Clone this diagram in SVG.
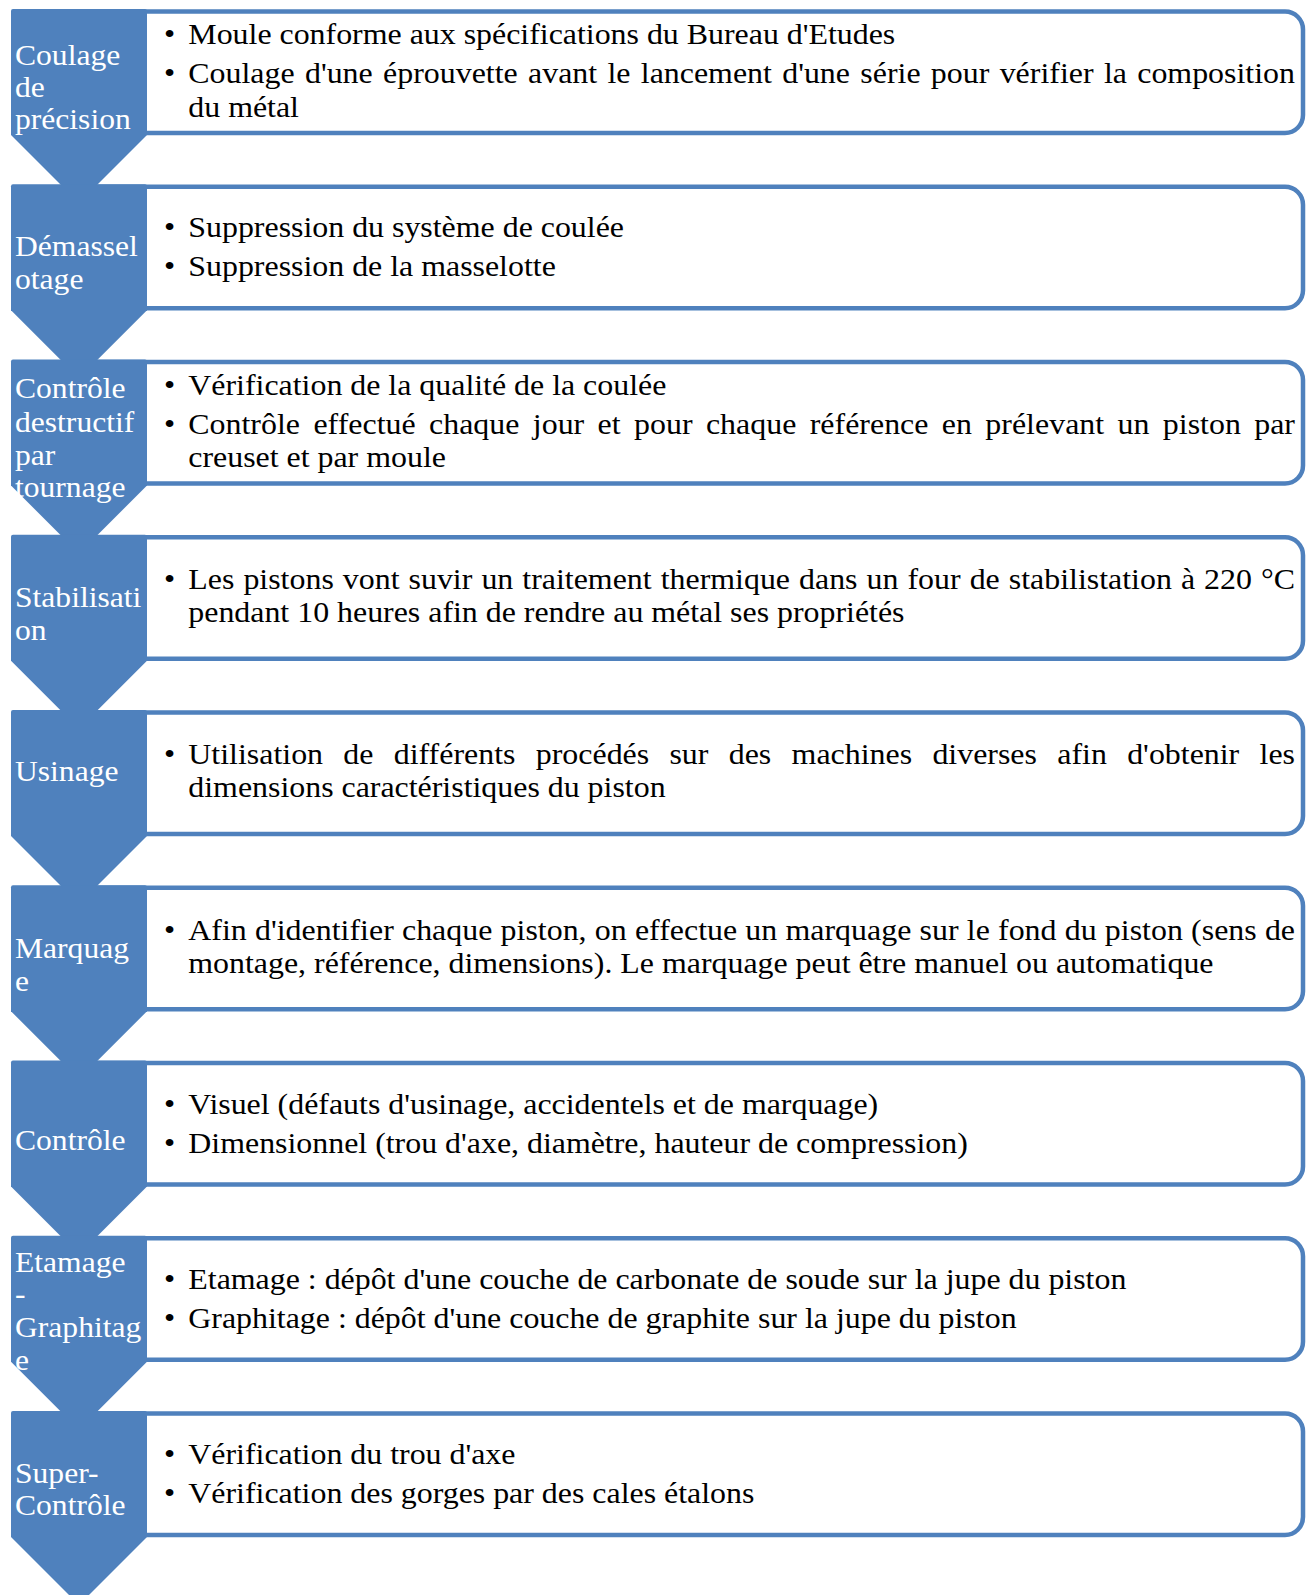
<svg xmlns="http://www.w3.org/2000/svg" width="1311" height="1595" viewBox="0 0 1311 1595">
<style>
.bx{fill:#fff;stroke:#4F81BD;stroke-width:4.5}
.cv{fill:#4F81BD}
.lb{font-family:"Liberation Serif","Times New Roman",serif;font-size:28.8px;fill:#fff}
.tx{font-family:"Liberation Serif","Times New Roman",serif;font-size:29px;fill:#000}
</style>
<rect width="1311" height="1595" fill="#fff"/>
<g id="connectors"/>
<g id="node1">
<rect class="bx" x="60" y="11.5" width="1243" height="121.5" rx="18"/>
<path class="cv" d="M11,11 Q11,9 13,9 H145 Q147,9 147,11 V135 L79,203 L11,135 Z"/>
<text class="lb" transform="translate(15,65) scale(1.097,1)">Coulage</text>
<text class="lb" transform="translate(15,97) scale(1.097,1)">de</text>
<text class="lb" transform="translate(15,128.5) scale(1.097,1)">précision</text>
<text class="tx" transform="translate(164,44.3) scale(1.1,1)">•</text>
<text class="tx" transform="translate(188.3,44.3) scale(1.1,1)">Moule conforme aux spécifications du Bureau d'Etudes</text>
<text class="tx" transform="translate(164,83.3) scale(1.1,1)">•</text>
<text class="tx" transform="translate(188.3,83.3) scale(1.1,1)" word-spacing="2.1" textLength="1006.1" lengthAdjust="spacing">Coulage d'une éprouvette avant le lancement d'une série pour vérifier la composition</text>
<text class="tx" transform="translate(188.3,116.7) scale(1.1,1)">du métal</text>
</g>
<g id="node2">
<rect class="bx" x="60" y="186.75" width="1243" height="121.5" rx="18"/>
<path class="cv" d="M11,186.25 Q11,184.25 13,184.25 H145 Q147,184.25 147,186.25 V310.25 L79,378.25 L11,310.25 Z"/>
<text class="lb" transform="translate(15,256) scale(1.097,1)">Démassel</text>
<text class="lb" transform="translate(15,289) scale(1.097,1)">otage</text>
<text class="tx" transform="translate(164,237.25) scale(1.1,1)">•</text>
<text class="tx" transform="translate(188.3,237.25) scale(1.1,1)">Suppression du système de coulée</text>
<text class="tx" transform="translate(164,276.25) scale(1.1,1)">•</text>
<text class="tx" transform="translate(188.3,276.25) scale(1.1,1)">Suppression de la masselotte</text>
</g>
<g id="node3">
<rect class="bx" x="60" y="362" width="1243" height="121.5" rx="18"/>
<path class="cv" d="M11,361.5 Q11,359.5 13,359.5 H145 Q147,359.5 147,361.5 V485.5 L79,553.5 L11,485.5 Z"/>
<text class="lb" transform="translate(15,398) scale(1.097,1)">Contrôle</text>
<text class="lb" transform="translate(15,431.5) scale(1.097,1)">destructif</text>
<text class="lb" transform="translate(15,465) scale(1.097,1)">par</text>
<text class="lb" transform="translate(15,497) scale(1.097,1)">tournage</text>
<text class="tx" transform="translate(164,394.8) scale(1.1,1)">•</text>
<text class="tx" transform="translate(188.3,394.8) scale(1.1,1)">Vérification de la qualité de la coulée</text>
<text class="tx" transform="translate(164,433.8) scale(1.1,1)">•</text>
<text class="tx" transform="translate(188.3,433.8) scale(1.1,1)" word-spacing="4.9" textLength="1006.1" lengthAdjust="spacing">Contrôle effectué chaque jour et pour chaque référence en prélevant un piston par</text>
<text class="tx" transform="translate(188.3,467.2) scale(1.1,1)">creuset et par moule</text>
</g>
<g id="node4">
<rect class="bx" x="60" y="537.25" width="1243" height="121.5" rx="18"/>
<path class="cv" d="M11,536.75 Q11,534.75 13,534.75 H145 Q147,534.75 147,536.75 V660.75 L79,728.75 L11,660.75 Z"/>
<text class="lb" transform="translate(15,607) scale(1.097,1)">Stabilisati</text>
<text class="lb" transform="translate(15,640) scale(1.097,1)">on</text>
<text class="tx" transform="translate(164,589) scale(1.1,1)">•</text>
<text class="tx" transform="translate(188.3,589) scale(1.1,1)" word-spacing="0.95" textLength="1006.1" lengthAdjust="spacing">Les pistons vont suvir un traitement thermique dans un four de stabilistation à 220 °C</text>
<text class="tx" transform="translate(188.3,622) scale(1.1,1)">pendant 10 heures afin de rendre au métal ses propriétés</text>
</g>
<g id="node5">
<rect class="bx" x="60" y="712.5" width="1243" height="121.5" rx="18"/>
<path class="cv" d="M11,712 Q11,710 13,710 H145 Q147,710 147,712 V836 L79,904 L11,836 Z"/>
<text class="lb" transform="translate(15,781) scale(1.097,1)">Usinage</text>
<text class="tx" transform="translate(164,764.3) scale(1.1,1)">•</text>
<text class="tx" transform="translate(188.3,764.3) scale(1.1,1)" word-spacing="11.2" textLength="1006.1" lengthAdjust="spacing">Utilisation de différents procédés sur des machines diverses afin d'obtenir les</text>
<text class="tx" transform="translate(188.3,797.3) scale(1.1,1)">dimensions caractéristiques du piston</text>
</g>
<g id="node6">
<rect class="bx" x="60" y="887.75" width="1243" height="121.5" rx="18"/>
<path class="cv" d="M11,887.25 Q11,885.25 13,885.25 H145 Q147,885.25 147,887.25 V1011.25 L79,1079.25 L11,1011.25 Z"/>
<text class="lb" transform="translate(15,958) scale(1.097,1)">Marquag</text>
<text class="lb" transform="translate(15,990.5) scale(1.097,1)">e</text>
<text class="tx" transform="translate(164,939.5) scale(1.1,1)">•</text>
<text class="tx" transform="translate(188.3,939.5) scale(1.1,1)" word-spacing="0.2" textLength="1006.1" lengthAdjust="spacing">Afin d'identifier chaque piston, on effectue un marquage sur le fond du piston (sens de</text>
<text class="tx" transform="translate(188.3,972.5) scale(1.1,1)">montage, référence, dimensions). Le marquage peut être manuel ou automatique</text>
</g>
<g id="node7">
<rect class="bx" x="60" y="1063" width="1243" height="121.5" rx="18"/>
<path class="cv" d="M11,1062.5 Q11,1060.5 13,1060.5 H145 Q147,1060.5 147,1062.5 V1186.5 L79,1254.5 L11,1186.5 Z"/>
<text class="lb" transform="translate(15,1150) scale(1.097,1)">Contrôle</text>
<text class="tx" transform="translate(164,1113.5) scale(1.1,1)">•</text>
<text class="tx" transform="translate(188.3,1113.5) scale(1.1,1)">Visuel (défauts d'usinage, accidentels et de marquage)</text>
<text class="tx" transform="translate(164,1152.5) scale(1.1,1)">•</text>
<text class="tx" transform="translate(188.3,1152.5) scale(1.1,1)">Dimensionnel (trou d'axe, diamètre, hauteur de compression)</text>
</g>
<g id="node8">
<rect class="bx" x="60" y="1238.25" width="1243" height="121.5" rx="18"/>
<path class="cv" d="M11,1237.75 Q11,1235.75 13,1235.75 H145 Q147,1235.75 147,1237.75 V1361.75 L79,1429.75 L11,1361.75 Z"/>
<text class="lb" transform="translate(15,1272) scale(1.097,1)">Etamage</text>
<text class="lb" transform="translate(15,1304) scale(1.097,1)">-</text>
<text class="lb" transform="translate(15,1337) scale(1.097,1)">Graphitag</text>
<text class="lb" transform="translate(15,1370) scale(1.097,1)">e</text>
<text class="tx" transform="translate(164,1288.75) scale(1.1,1)">•</text>
<text class="tx" transform="translate(188.3,1288.75) scale(1.1,1)">Etamage : dépôt d'une couche de carbonate de soude sur la jupe du piston</text>
<text class="tx" transform="translate(164,1327.75) scale(1.1,1)">•</text>
<text class="tx" transform="translate(188.3,1327.75) scale(1.1,1)">Graphitage : dépôt d'une couche de graphite sur la jupe du piston</text>
</g>
<g id="node9">
<rect class="bx" x="60" y="1413.5" width="1243" height="121.5" rx="18"/>
<path class="cv" d="M11,1413 Q11,1411 13,1411 H145 Q147,1411 147,1413 V1537 L79,1605 L11,1537 Z"/>
<text class="lb" transform="translate(15,1483) scale(1.097,1)">Super-</text>
<text class="lb" transform="translate(15,1515) scale(1.097,1)">Contrôle</text>
<text class="tx" transform="translate(164,1464) scale(1.1,1)">•</text>
<text class="tx" transform="translate(188.3,1464) scale(1.1,1)">Vérification du trou d'axe</text>
<text class="tx" transform="translate(164,1503) scale(1.1,1)">•</text>
<text class="tx" transform="translate(188.3,1503) scale(1.1,1)">Vérification des gorges par des cales étalons</text>
</g>
</svg>
